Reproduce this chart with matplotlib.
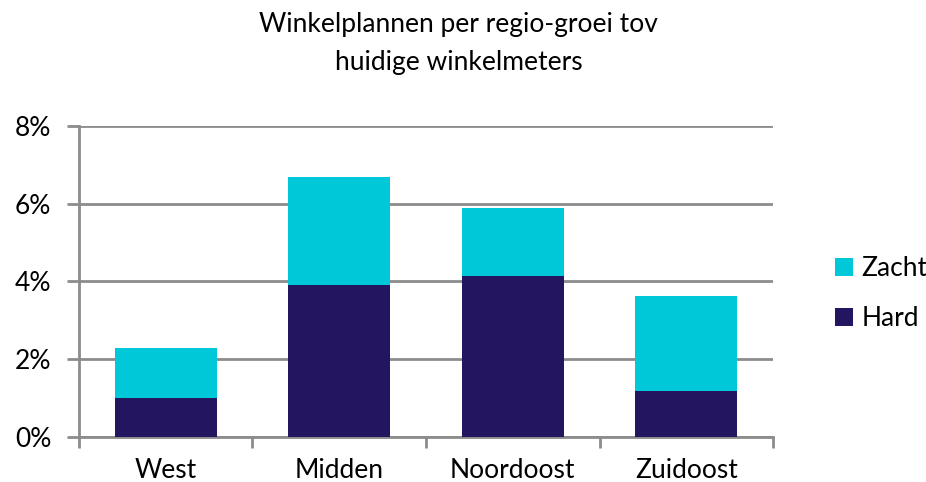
import matplotlib
matplotlib.use("Agg")
import matplotlib.pyplot as plt
import matplotlib.ticker as plticker
import numpy as np

regions = ["West", "Midden", "Noordoost", "Zuidoost"]
hard = [1.0, 3.9, 4.15, 1.18]
zacht = [1.3, 2.8, 1.75, 2.45]
y_ticks = [0, 2, 4, 6, 8]

HARD_COLOR = "#231560"
ZACHT_COLOR = "#00c8d8"
GRID_COLOR = "#8c8c8c"

plt.rcParams["font.family"] = ["Lato", "DejaVu Sans"]

fig = plt.figure(figsize=(9.26, 4.82), dpi=100)
ax = fig.add_axes([0.0853, 0.0934, 0.7495, 0.6452])

x = np.arange(len(regions))
b_hard = ax.bar(x, hard, width=0.59, color=HARD_COLOR, label="Hard", zorder=3)
b_zacht = ax.bar(x, zacht, width=0.59, bottom=hard, color=ZACHT_COLOR,
                 label="Zacht", zorder=3)

ax.set_xlim(-0.5, len(regions) - 0.5)
ax.set_ylim(0, 8)
ax.set_yticks(y_ticks)
ax.yaxis.set_major_formatter(plticker.FuncFormatter(lambda v, _p: "%d%%" % v))
ax.yaxis.grid(True, color=GRID_COLOR, linewidth=2, zorder=0)

# category labels in the middle, ticks on the boundaries
ax.set_xticks(x)
ax.set_xticklabels(regions)
ax.set_xticks(np.arange(-0.5, len(regions) + 0.5, 1), minor=True)
ax.tick_params(axis="x", which="major", length=0, labelsize=19, pad=15)
ax.tick_params(axis="x", which="minor", length=8, width=2, color=GRID_COLOR)
ax.tick_params(axis="y", length=9, width=2, color=GRID_COLOR, labelsize=19, pad=11)

for side in ["top", "right"]:
    ax.spines[side].set_visible(False)
for side in ["left", "bottom"]:
    ax.spines[side].set_color(GRID_COLOR)
    ax.spines[side].set_linewidth(2)

fig.text(0.495, 0.91, "Winkelplannen per regio-groei tov\nhuidige winkelmeters",
         ha="center", va="center", fontsize=19, linespacing=1.65)

ax.legend([b_zacht, b_hard], ["Zacht", "Hard"], loc="center left",
          bbox_to_anchor=(1.055, 0.46), frameon=False, fontsize=19,
          handlelength=0.7, handleheight=0.7, handletextpad=0.3,
          labelspacing=0.95)

fig.savefig("out.png", dpi=100)
